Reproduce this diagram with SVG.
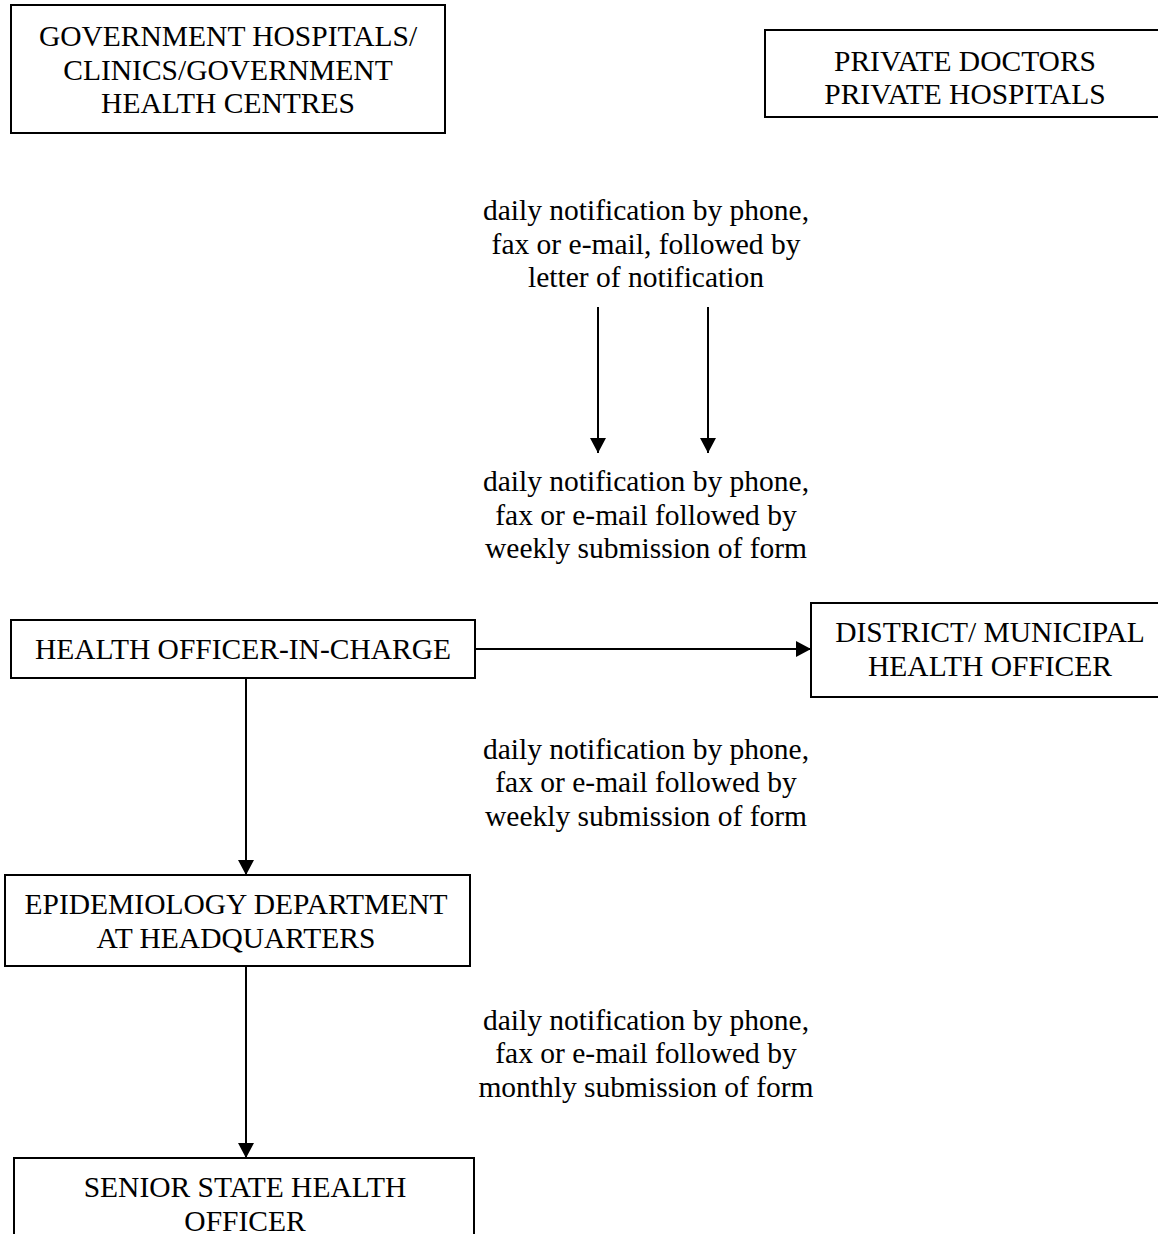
<svg xmlns="http://www.w3.org/2000/svg" width="1158" height="1234" viewBox="0 0 1158 1234">
<defs>
<style>
.box{fill:#fff;stroke:#000;stroke-width:2}
text{font-family:"Liberation Serif","Times New Roman",serif;font-size:29.5px;fill:#000;text-anchor:middle}
.ln{stroke:#000;stroke-width:2;fill:none}
</style>
<marker id="ah" markerWidth="16" markerHeight="16" refX="15" refY="8" orient="auto" markerUnits="userSpaceOnUse">
<path d="M0,0 L15,8 L0,16 Z" fill="#000"/>
</marker>
</defs>
<rect width="1158" height="1234" fill="#fff"/>
<g id="gov">
<rect class="box" x="11" y="5" width="434" height="128"/>
<text x="228" y="46">GOVERNMENT HOSPITALS/</text>
<text x="228" y="80">CLINICS/GOVERNMENT</text>
<text x="228" y="113">HEALTH CENTRES</text>
</g>
<g id="private">
<rect class="box" x="765" y="30" width="420" height="87"/>
<text x="965" y="71">PRIVATE DOCTORS</text>
<text x="965" y="104">PRIVATE HOSPITALS</text>
</g>
<g id="label1">
<text x="646" y="220">daily notification by phone,</text>
<text x="646" y="254">fax or e-mail, followed by</text>
<text x="646" y="287">letter of notification</text>
</g>
<g id="label2">
<text x="646" y="491">daily notification by phone,</text>
<text x="646" y="525">fax or e-mail followed by</text>
<text x="646" y="558">weekly submission of form</text>
</g>
<g id="hoic">
<rect class="box" x="11" y="620" width="464" height="58"/>
<text x="243" y="659">HEALTH OFFICER-IN-CHARGE</text>
</g>
<g id="district">
<rect class="box" x="811" y="603" width="380" height="94"/>
<text x="990" y="642">DISTRICT/ MUNICIPAL</text>
<text x="990" y="676">HEALTH OFFICER</text>
</g>
<g id="label3">
<text x="646" y="759">daily notification by phone,</text>
<text x="646" y="792">fax or e-mail followed by</text>
<text x="646" y="826">weekly submission of form</text>
</g>
<g id="epi">
<rect class="box" x="5" y="875" width="465" height="91"/>
<text x="236" y="914">EPIDEMIOLOGY DEPARTMENT</text>
<text x="236" y="948">AT HEADQUARTERS</text>
</g>
<g id="label4">
<text x="646" y="1030">daily notification by phone,</text>
<text x="646" y="1063">fax or e-mail followed by</text>
<text x="646" y="1097">monthly submission of form</text>
</g>
<g id="senior">
<rect class="box" x="14" y="1158" width="460" height="100"/>
<text x="245" y="1197">SENIOR STATE HEALTH</text>
<text x="245" y="1231">OFFICER</text>
</g>
<g id="connectors">
<line class="ln" x1="598" y1="307" x2="598" y2="453" marker-end="url(#ah)"/>
<line class="ln" x1="708" y1="307" x2="708" y2="453" marker-end="url(#ah)"/>
<line class="ln" x1="475" y1="649" x2="811" y2="649" marker-end="url(#ah)"/>
<line class="ln" x1="246" y1="678" x2="246" y2="875" marker-end="url(#ah)"/>
<line class="ln" x1="246" y1="966" x2="246" y2="1158" marker-end="url(#ah)"/>
</g>
</svg>
